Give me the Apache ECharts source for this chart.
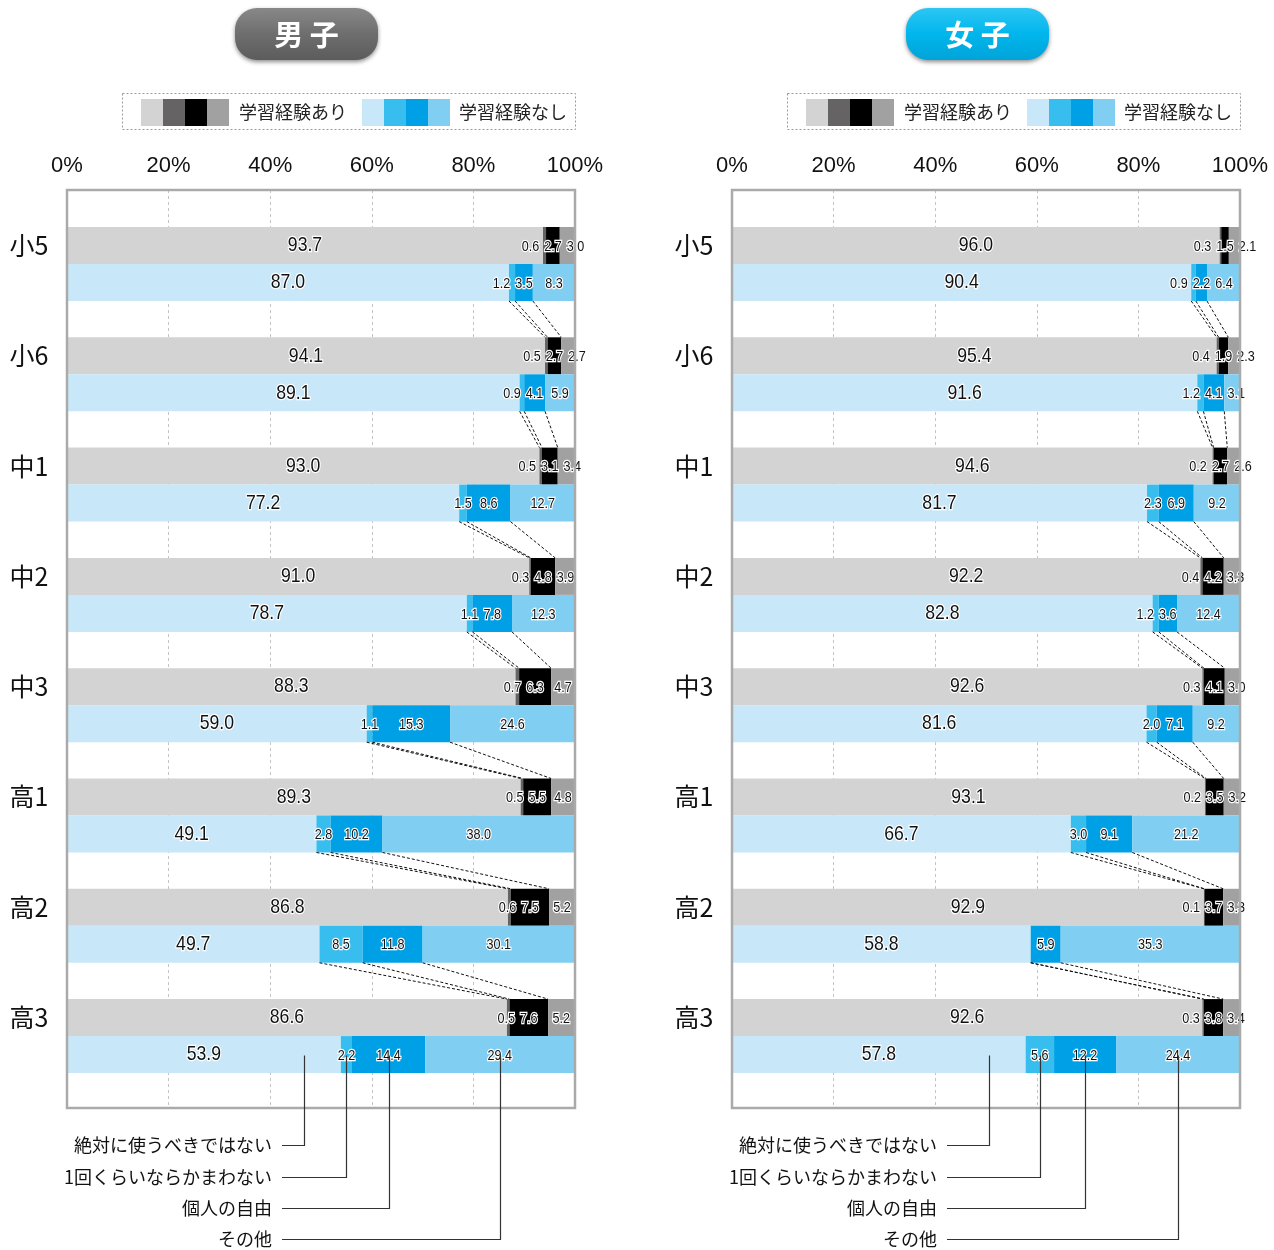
<!DOCTYPE html>
<html>
<head>
<meta charset="utf-8">
<script src="https://cdn.jsdelivr.net/npm/echarts@6/dist/echarts.min.js"></script>
<style>
  html, body { margin: 0; padding: 0; background: #fff; }
  #chart { width: 1274px; height: 1250px; }
</style>
</head>
<body>
<div id="chart"></div>
<script>
// ---- categories and labels ----
const grades = ['小5', '小6', '中1', '中2', '中3', '高1', '高2', '高3'];
const opinionNames = ['絶対に使うべきではない', '1回くらいならかまわない', '個人の自由', 'その他'];
const groupNames = ['学習経験あり', '学習経験なし'];
const panelTitles = ['男子', '女子'];
const xTickValues = [0, 20, 40, 60, 80, 100];

// ---- 男子 / 学習経験あり (%) ----
const boysYesNever = [93.7, 94.1, 93.0, 91.0, 88.3, 89.3, 86.8, 86.6];
const boysYesOnce  = [0.6, 0.5, 0.5, 0.3, 0.7, 0.5, 0.6, 0.5];
const boysYesFree  = [2.7, 2.7, 3.1, 4.8, 6.3, 5.5, 7.5, 7.6];
const boysYesOther = [3.0, 2.7, 3.4, 3.9, 4.7, 4.8, 5.2, 5.2];
// ---- 男子 / 学習経験なし (%) ----
const boysNoNever = [87.0, 89.1, 77.2, 78.7, 59.0, 49.1, 49.7, 53.9];
const boysNoOnce  = [1.2, 0.9, 1.5, 1.1, 1.1, 2.8, 8.5, 2.2];
const boysNoFree  = [3.5, 4.1, 8.6, 7.8, 15.3, 10.2, 11.8, 14.4];
const boysNoOther = [8.3, 5.9, 12.7, 12.3, 24.6, 38.0, 30.1, 29.4];
// ---- 女子 / 学習経験あり (%) ----
const girlsYesNever = [96.0, 95.4, 94.6, 92.2, 92.6, 93.1, 92.9, 92.6];
const girlsYesOnce  = [0.3, 0.4, 0.2, 0.4, 0.3, 0.2, 0.1, 0.3];
const girlsYesFree  = [1.5, 1.9, 2.7, 4.2, 4.1, 3.5, 3.7, 3.8];
const girlsYesOther = [2.1, 2.3, 2.6, 3.3, 3.0, 3.2, 3.3, 3.4];
// ---- 女子 / 学習経験なし (%) ----
const girlsNoNever = [90.4, 91.6, 81.7, 82.8, 81.6, 66.7, 58.8, 57.8];
const girlsNoOnce  = [0.9, 1.2, 2.3, 1.2, 2.0, 3.0, 0, 5.6];
const girlsNoFree  = [2.2, 4.1, 6.9, 3.6, 7.1, 9.1, 5.9, 12.2];
const girlsNoOther = [6.4, 3.1, 9.2, 12.4, 9.2, 21.2, 35.3, 24.4];

// ---- styling ----
const GRAY_COLORS = ['#d3d3d3', '#656363', '#000000', '#a0a1a0'];
const BLUE_COLORS = ['#c8e8f9', '#38bdef', '#00a0e6', '#80cff3'];
const NUM_FONT = '"Liberation Sans", Arial, sans-serif';
const JP_FONT = '"Noto Sans CJK JP", "Noto Sans", sans-serif';
const BIG_LABEL_FONT = '21px ' + NUM_FONT;
const SMALL_LABEL_FONT = '15px ' + NUM_FONT;
const NARROW = 0.84;           // horizontal squeeze for the condensed-looking numbers
const BAR_U = 0.3355;          // bar thickness in grade units (two bars per grade)
const Y_MIN = -0.671, Y_MAX = 7.652;
const PANEL_LEFT = [67, 732];
const PLOT_W = 508, PLOT_TOP = 190, PLOT_H = 918;

const measureCtx = document.createElement('canvas').getContext('2d');
function textWidth(str, font) { measureCtx.font = font; return measureCtx.measureText(str).width * NARROW; }

function rows(a, b, c, d) { return grades.map((g, i) => [i, a[i], b[i], c[i], d[i]]); }
function cumulative(a, b, c, i) { return [a[i], a[i] + b[i], a[i] + b[i] + c[i]]; }

const panels = [
  { yes: [boysYesNever, boysYesOnce, boysYesFree, boysYesOther], no: [boysNoNever, boysNoOnce, boysNoFree, boysNoOther] },
  { yes: [girlsYesNever, girlsYesOnce, girlsYesFree, girlsYesOther], no: [girlsNoNever, girlsNoOnce, girlsNoFree, girlsNoOther] }
];

function labelText(x, y, str, font) {
  return {
    type: 'text', x: x, y: y, z2: 20, scaleX: NARROW,
    style: { text: str, font: font, fill: '#111', stroke: '#fff', lineWidth: 2.5,
             align: 'center', verticalAlign: 'middle' }
  };
}

// Stacked 100% bar: four segments, value labels kept apart from each other
function barRenderer(palette, upper) {
  return function (params, api) {
    const idx = api.value(0);
    const vals = [api.value(1), api.value(2), api.value(3), api.value(4)];
    const yTop = api.coord([0, upper ? idx - BAR_U : idx])[1];
    const yBot = api.coord([0, upper ? idx : idx + BAR_U])[1];
    const yMid = (yTop + yBot) / 2;
    const children = [];
    const segs = [];
    let cum = 0;
    vals.forEach((v, k) => {
      const xa = api.coord([Math.min(cum, 100), idx])[0];
      const xb = api.coord([Math.min(cum + v, 100), idx])[0];
      segs.push({ v: v, c: (xa + xb) / 2 });
      if (v > 0) {
        children.push({ type: 'rect', shape: { x: xa, y: yTop, width: xb - xa, height: yBot - yTop },
                        style: { fill: palette[k] } });
      }
      cum += v;
    });
    const txt = segs.map(s => s.v.toFixed(1));
    const w = txt.map((t, k) => textWidth(t, k === 0 ? BIG_LABEL_FONT : SMALL_LABEL_FONT) + 2.5);
    const GAP = 2.5;
    const c3 = segs[2].c;
    children.push(labelText(segs[0].c, yMid, txt[0], BIG_LABEL_FONT));
    if (segs[1].v > 0) {
      const c2 = Math.min(segs[1].c, c3 - w[2] / 2 - GAP - w[1] / 2);
      children.push(labelText(c2, yMid + 1, txt[1], SMALL_LABEL_FONT));
    }
    if (segs[2].v > 0) children.push(labelText(c3, yMid + 1, txt[2], SMALL_LABEL_FONT));
    if (segs[3].v > 0) {
      const c4 = Math.max(segs[3].c, c3 + w[2] / 2 + GAP + w[3] / 2);
      children.push(labelText(c4, yMid + 1, txt[3], SMALL_LABEL_FONT));
    }
    if (upper) {
      const p = api.coord([0, idx - BAR_U / 2]);
      children.push({ type: 'text', x: p[0] - 38, y: p[1],
        style: { text: grades[idx], font: '25px ' + JP_FONT, fill: '#111', align: 'center', verticalAlign: 'middle' } });
    }
    return { type: 'group', children: children };
  };
}

// Dashed lines joining segment borders of one grade's 経験なし bar to the next grade's 経験あり bar
function connectorRenderer(params, api) {
  const i = api.value(0);
  const yA = api.coord([0, i + BAR_U])[1];
  const yB = api.coord([0, i + 1 - BAR_U])[1];
  const children = [];
  for (let k = 0; k < 3; k++) {
    const xA = api.coord([api.value(1 + k), i])[0];
    const xB = api.coord([api.value(4 + k), i])[0];
    children.push({ type: 'line', shape: { x1: xA, y1: yA, x2: xB, y2: yB },
      style: { stroke: '#111', lineWidth: 1, lineDash: [3, 2] } });
  }
  return { type: 'group', children: children };
}

// Leader lines from the last 経験なし bar to the opinion names below the plot
const LEADER_ROWS = [37, 69, 100, 131];
function leaderRenderer(params, api) {
  const i = api.value(0);
  const yStart = api.coord([0, i + BAR_U / 2])[1] + 1;
  const bottom = api.coord([0, Y_MAX])[1];
  const left = api.coord([0, i])[0];
  const children = [];
  for (let k = 0; k < 4; k++) {
    const x = Math.round(api.coord([api.value(1 + k), i])[0]) + 0.5;
    const y = Math.round(bottom + LEADER_ROWS[k]) + 0.5;
    children.push({ type: 'polyline', z2: 30, shape: { points: [[x, yStart], [x, y], [left + 215, y]] },
      style: { stroke: '#333', lineWidth: 1.2, fill: null } });
    children.push({ type: 'text', x: left + 205, y: y, style: { text: opinionNames[k], font: '18px ' + JP_FONT,
      fill: '#111', align: 'right', verticalAlign: 'middle' } });
  }
  return { type: 'group', children: children };
}

// Plot frame drawn over the bars
function frameRenderer(params, api) {
  const a = api.coord([0, Y_MIN]);
  const b = api.coord([100, Y_MAX]);
  return { type: 'rect', shape: { x: a[0], y: a[1], width: b[0] - a[0], height: b[1] - a[1] },
    style: { fill: null, stroke: '#aaaaaa', lineWidth: 2.5 } };
}

const grid = [], xAxis = [], yAxis = [], series = [], graphic = [];

panels.forEach((p, g) => {
  grid.push({ left: PANEL_LEFT[g], top: PLOT_TOP, width: PLOT_W, height: PLOT_H, containLabel: false });
  xAxis.push({
    gridIndex: g, type: 'value', min: 0, max: 100, interval: 20, position: 'top',
    axisLine: { show: false },
    axisTick: { show: true, length: 7, lineStyle: { color: '#bbbbbb', width: 1.5 } },
    axisLabel: { formatter: '{value}%', fontSize: 22, fontFamily: NUM_FONT, color: '#111', margin: 13 },
    splitLine: { show: true, lineStyle: { color: '#c4c4c4', width: 1, type: [3, 3] } }
  });
  yAxis.push({ gridIndex: g, type: 'value', inverse: true, min: Y_MIN, max: Y_MAX, show: false });

  const common = { type: 'custom', xAxisIndex: g, yAxisIndex: g, encode: { x: 1, y: 0 }, animation: false, silent: true };
  series.push(Object.assign({}, common, { name: groupNames[0], z: 3, renderItem: barRenderer(GRAY_COLORS, true),
    data: rows(p.yes[0], p.yes[1], p.yes[2], p.yes[3]) }));
  series.push(Object.assign({}, common, { name: groupNames[1], z: 3, renderItem: barRenderer(BLUE_COLORS, false),
    data: rows(p.no[0], p.no[1], p.no[2], p.no[3]) }));

  const links = [];
  for (let i = 0; i < grades.length - 1; i++) {
    links.push([i].concat(cumulative(p.no[0], p.no[1], p.no[2], i), cumulative(p.yes[0], p.yes[1], p.yes[2], i + 1)));
  }
  series.push(Object.assign({}, common, { z: 4, renderItem: connectorRenderer, data: links }));

  const last = grades.length - 1;
  const n = p.no.map(a => a[last]);
  const leaders = [[last, n[0] - 7.2, n[0] + n[1] / 2, n[0] + n[1] + n[2] / 2, n[0] + n[1] + n[2] + n[3] / 2]];
  series.push(Object.assign({}, common, { z: 6, renderItem: leaderRenderer, data: leaders }));
  series.push(Object.assign({}, common, { z: 5, renderItem: frameRenderer, data: [[0, 0]] }));

  // title badge
  const dx = PANEL_LEFT[g] - PANEL_LEFT[0];
  const badgeStops = g === 0
    ? [{ offset: 0, color: '#888888' }, { offset: 0.5, color: '#6e6e6e' }, { offset: 1, color: '#5c5c5c' }]
    : [{ offset: 0, color: '#2cc6f4' }, { offset: 0.5, color: '#00b6ec' }, { offset: 1, color: '#00a3d9' }];
  graphic.push({ type: 'rect', shape: { x: 235 + dx + (g ? 6 : 0), y: 8, width: 143, height: 52, r: 22 },
    style: { fill: new echarts.graphic.LinearGradient(0, 0, 0, 1, badgeStops),
             shadowBlur: 4, shadowOffsetY: 2, shadowColor: 'rgba(0,0,0,0.45)' } });
  graphic.push({ type: 'text', x: 306.5 + dx + (g ? 6 : 0), y: 35,
    style: { text: panelTitles[g].split('').join(' '), font: 'bold 29px ' + JP_FONT, fill: '#fff',
             align: 'center', verticalAlign: 'middle' } });

  // legend box
  graphic.push({ type: 'rect', shape: { x: 122.5 + dx, y: 93.5, width: 453, height: 36 },
    style: { fill: null, stroke: '#9a9a9a', lineWidth: 1, lineDash: [2, 2] } });
  [GRAY_COLORS, BLUE_COLORS].forEach((cols, j) => {
    const sx = (j === 0 ? 141 : 362) + dx;
    cols.forEach((c, k) => {
      graphic.push({ type: 'rect', shape: { x: sx + 22 * k, y: 99, width: 22, height: 27 }, style: { fill: c } });
    });
    graphic.push({ type: 'text', x: (j === 0 ? 239 : 459) + dx, y: 112,
      style: { text: groupNames[j], font: '18px ' + JP_FONT, fill: '#222', align: 'left', verticalAlign: 'middle' } });
  });
});

const chart = echarts.init(document.getElementById('chart'), null, { renderer: 'canvas' });
chart.setOption({
  animation: false,
  backgroundColor: '#ffffff',
  grid: grid, xAxis: xAxis, yAxis: yAxis, series: series, graphic: graphic
});
</script>
</body>
</html>
